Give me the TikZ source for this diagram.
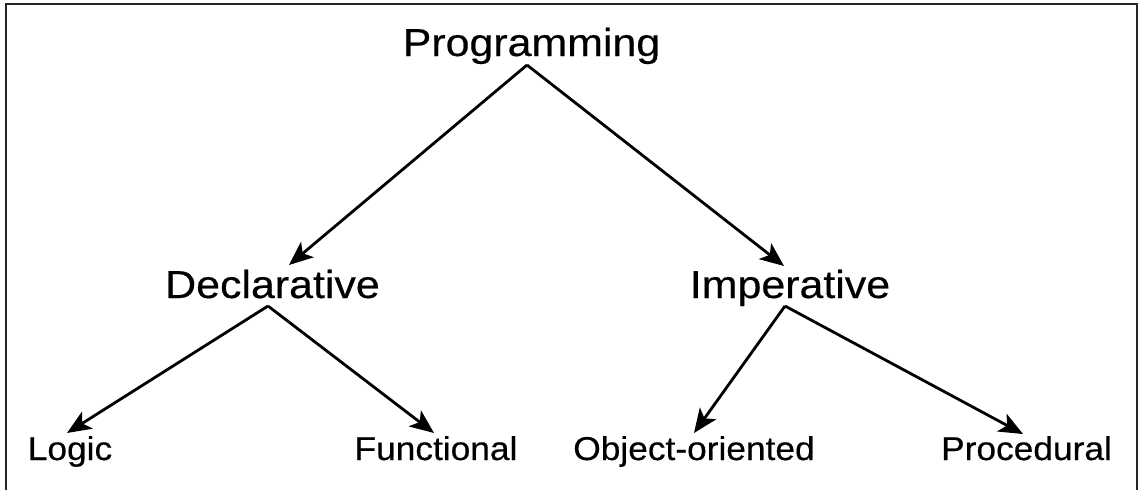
\documentclass[tikz,border=0pt]{standalone}
\usepackage{fontspec}
\setmainfont{Liberation Sans}[FakeBold=0.4]
\usetikzlibrary{arrows.meta}
\tikzset{
  lvlone/.style={font=\fontsize{39}{45}\selectfont, inner sep=0pt, anchor=base},
  lvltwo/.style={font=\fontsize{33}{38}\selectfont, inner sep=0pt, anchor=base},
  arr/.style={line width=2.8pt, -{Stealth[length=24pt,width=20pt,inset=6pt]}},
  frame/.style={line width=2.8pt, black!85}
}
\begin{document}
\begin{tikzpicture}[x=1pt,y=-1pt]
\useasboundingbox (0,0) rectangle (1141,490);
\draw[frame] (6,492) -- (6,4) -- (1137,4) -- (1137,492);
% nodes
\node[lvlone] (prog) at (531.5,56) {\scalebox{1.1}[1]{Programming}};
\node[lvlone] (decl) at (272.5,298) {\scalebox{1.1}[1]{Declarative}};
\node[lvlone] (imp) at (790,298) {\scalebox{1.1}[1]{Imperative}};
\node[lvltwo] (logic) at (70,460) {\scalebox{1.07}[1]{Logic}};
\node[lvltwo] (func) at (436,460) {\scalebox{1.07}[1]{Functional}};
\node[lvltwo] (oo) at (694,460) {\scalebox{1.07}[1]{Object-oriented}};
\node[lvltwo] (proc) at (1026.5,460) {\scalebox{1.07}[1]{Procedural}};
% connector ends
\coordinate (progS) at (527,65);
\coordinate (declN) at (289,265);
\coordinate (impN) at (784,266);
\coordinate (declS) at (268,306);
\coordinate (impS) at (785,306);
\coordinate (logicN) at (67,433);
\coordinate (funcN) at (434,433);
\coordinate (ooN) at (694,433);
\coordinate (procN) at (1023,434);
% connectors
\draw[arr] (progS) -- (declN);
\draw[arr] (progS) -- (impN);
\draw[arr] (declS) -- (logicN);
\draw[arr] (declS) -- (funcN);
\draw[arr] (impS) -- (ooN);
\draw[arr] (impS) -- (procN);
\end{tikzpicture}
\end{document}
